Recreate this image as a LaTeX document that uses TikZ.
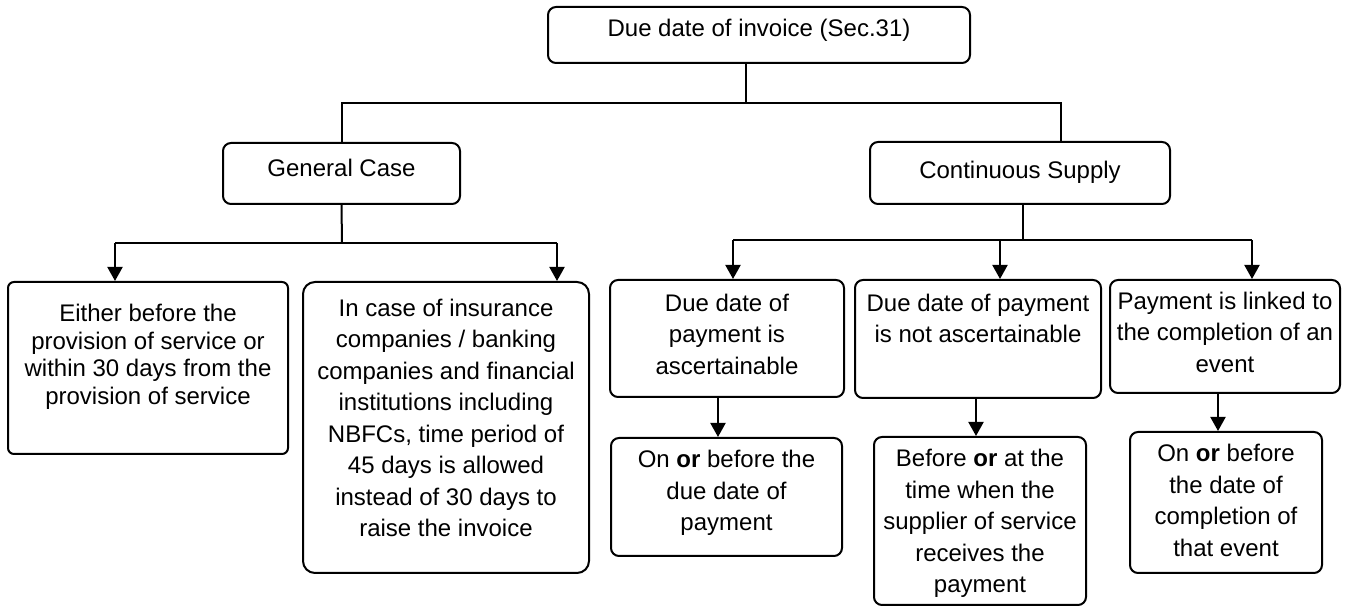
\documentclass[tikz,border=0pt]{standalone}
\usepackage{fontspec}
\setmainfont{Liberation Sans}
\usetikzlibrary{arrows.meta,fit}
\begin{document}
\begin{tikzpicture}[x=0.5pt,y=-0.5pt,
  box/.style={draw, line width=1pt, rounded corners=4pt, inner sep=0pt},
  txt/.style={align=center, inner sep=0pt, anchor=north, font=\fontsize{12}{15.75}\selectfont},
  conn/.style={line width=1pt},
  arr/.style={conn, -{Triangle[length=7pt,width=7.5pt]}}]
\useasboundingbox (0,0) rectangle (1346,608);

% boxes
\node[box, fit={(548,7) (970,63)}] (b0) {};
\node[box, fit={(223,143) (460,204)}] (gen) {};
\node[box, fit={(870,142) (1170,204)}] (cs) {};
\node[box, rounded corners=3pt, fit={(8,282) (288,454)}] (b1) {};
\node[box, rounded corners=6pt, fit={(303,282) (589,573)}] (b2) {};
\node[box, fit={(610,280) (844,397)}] (b3) {};
\node[box, fit={(855,280) (1101,398)}] (b4) {};
\node[box, fit={(1110,280) (1340,393)}] (b5) {};
\node[box, fit={(611,438) (842,556)}] (b6) {};
\node[box, fit={(874,437) (1086,605)}] (b7) {};
\node[box, fit={(1130,432) (1322,573)}] (b8) {};

% texts
\node[txt] (t0) at ([yshift=-6.5pt]b0.north) {Due date of invoice (Sec.31)};
\node[txt] (tg) at ([yshift=-8.25pt]gen.north) {General Case};
\node[txt] (tc) at ([yshift=-10pt]cs.north) {Continuous Supply};
\node[txt, font=\fontsize{12}{13.75}\selectfont] (t1) at ([yshift=-11.5pt]b1.north) {Either before the\\provision of service or\\within 30 days from the\\provision of service};
\node[txt] (t2) at ([yshift=-8.75pt]b2.north) {In case of insurance\\companies / banking\\companies and financial\\institutions including\\NBFCs, time period of\\45 days is allowed\\instead of 30 days to\\raise the invoice};
\node[txt] (t3) at ([yshift=-7.25pt]b3.north) {Due date of\\payment is\\ascertainable};
\node[txt] (t4) at ([yshift=-7.25pt]b4.north) {Due date of payment\\is not ascertainable};
\node[txt] (t5) at ([yshift=-6.25pt]b5.north) {Payment is linked to\\the completion of an\\event};
\node[txt] (t6) at ([yshift=-6.5pt]b6.north) {On \textbf{or} before the\\due date of\\payment};
\node[txt] (t7) at ([yshift=-6.5pt]b7.north) {Before \textbf{or} at the\\time when the\\supplier of service\\receives the\\payment};
\node[txt] (t8) at ([yshift=-6.5pt]b8.north) {On \textbf{or} before\\the date of\\completion of\\that event};

% junction coordinates
\coordinate (j0) at (746,103);
\coordinate (j0r) at (1061,103);
\coordinate (j1) at (342,243);
\coordinate (a1) at (115,243);
\coordinate (a2) at (557,243);
\coordinate (j2) at (1023,240);
\coordinate (a3) at (733,240);
\coordinate (a4) at (1000,240);
\coordinate (a5) at (1252,240);
\coordinate (d6) at (718,0);
\coordinate (d7) at (976,0);
\coordinate (d8) at (1218,0);

% connectors
\draw[conn] (b0.south -| j0) -- (j0);
\draw[conn] (gen.north) |- (j0r) -- (j0r |- cs.north);
\draw[conn] (gen.south) -- (j1);
\draw[conn] (a1) -- (a2);
\draw[arr] (a1) -- (a1 |- b1.north);
\draw[arr] (a2) -- (a2 |- b2.north);
\draw[conn] (cs.south -| j2) -- (j2);
\draw[conn] (a3) -- (a5);
\draw[arr] (a3) -- (a3 |- b3.north);
\draw[arr] (a4) -- (a4 |- b4.north);
\draw[arr] (a5) -- (a5 |- b5.north);
\draw[arr] (d6 |- b3.south) -- (d6 |- b6.north);
\draw[arr] (d7 |- b4.south) -- (d7 |- b7.north);
\draw[arr] (d8 |- b5.south) -- (d8 |- b8.north);
\end{tikzpicture}
\end{document}
